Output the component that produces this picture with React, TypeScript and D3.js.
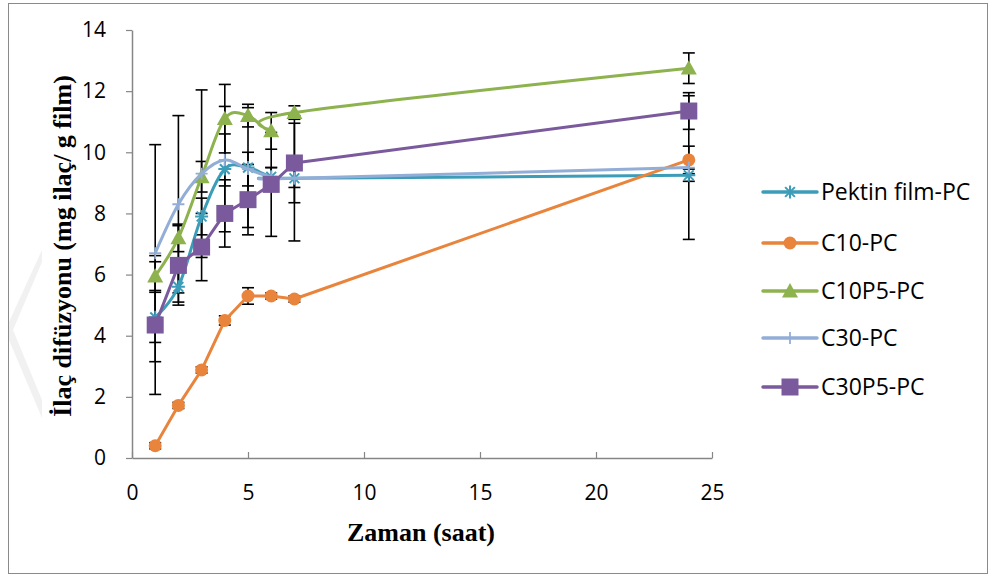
import React, { useEffect, useRef } from "react";
import * as d3 from "d3";

// zaman (saat)
const hours = [1, 2, 3, 4, 5, 6, 7, 24];

const seriesNames = ["Pektin film-PC", "C10-PC", "C10P5-PC", "C30-PC", "C30P5-PC"];
const pektin = [4.6, 5.6, 7.9, 9.45, 9.5, 9.2, 9.15, 9.25];
const c10 = [0.4, 1.72, 2.88, 4.5, 5.3, 5.3, 5.2, 9.75];
const c10p5 = [5.95, 7.2, 9.2, 11.1, 11.2, 10.7, 11.3, 12.75];
const c30 = [6.7, 8.3, 9.3, 9.75, 9.45, 9.2, 9.15, 9.5];
const c30p5 = [4.35, 6.3, 6.9, 8.0, 8.45, 8.95, 9.65, 11.35];

// hata cubuklari (+/-)
const pektinErr = [0.82, 0.5, 0.6, 2.05, 1.96, 0.3, 2.05, 0.2];
const c10Err = [0.1, 0.1, 0.1, 0.15, 0.27, 0.1, 0.1, 0.45];
const c10p5Err = [0.47, 0.45, 0.5, 1.12, 0.37, 0.6, 0.22, 0.5];
const c30Err = [3.55, 2.9, 2.74, 0.85, 0.55, 0.3, 0.3, 2.35];
const c30p5Err = [2.27, 1.3, 1.1, 1.1, 1.15, 1.7, 1.3, 0.6];

const yTicks = [0, 2, 4, 6, 8, 10, 12, 14];
const xTicks = [0, 5, 10, 15, 20, 25];

const colors = ["#3C9DB8", "#E8843B", "#8DB24E", "#93AED6", "#7A5A9C"];
const markers = ["asterisk", "circle", "triangle", "plus", "square"];
const smooth = [true, false, true, true, false];

export default function App() {
  const svgRef = useRef<SVGSVGElement>(null);

  useEffect(() => {
    const svg = d3.select(svgRef.current);
    svg.selectAll("*").remove();

    const W = 993, H = 580;
    const left = 132, right = 712, top = 30, bottom = 458;
    const x = d3.scaleLinear().domain([0, 25]).range([left, right]);
    const y = d3.scaleLinear().domain([0, 14]).range([bottom, top]);

    const values = [pektin, c10, c10p5, c30, c30p5];
    const errs = [pektinErr, c10Err, c10p5Err, c30Err, c30p5Err];

    svg.append("rect").attr("width", W).attr("height", H).attr("fill", "#fff");
    // soluk filigran
    svg.append("path")
      .attr("d", "M9,322L42,250L42,262L13,330L42,400L42,418L9,340Z")
      .attr("fill", "#f1f1f1");
    svg.append("rect")
      .attr("x", 8.5).attr("y", 3.5).attr("width", 979).attr("height", 570)
      .attr("fill", "none").attr("stroke", "#8a8a8a").attr("stroke-width", 1);

    // axes
    const yAxis = svg.append("g").attr("transform", `translate(${left},0)`)
      .call(d3.axisLeft(y).tickValues(yTicks).tickSize(6).tickSizeOuter(0).tickPadding(20));
    const xAxis = svg.append("g").attr("transform", `translate(0,${bottom})`)
      .call(d3.axisBottom(x).tickValues(xTicks).tickSize(-6).tickSizeOuter(0).tickPadding(35));
    [yAxis, xAxis].forEach((g) => {
      g.select(".domain").attr("stroke", "#868686").attr("stroke-width", 1.5);
      g.selectAll(".tick line").attr("stroke", "#868686").attr("stroke-width", 1.2);
      g.selectAll("text")
        .attr("font-family", "Open Sans, Noto Sans, sans-serif")
        .attr("font-size", 21).attr("fill", "#000");
    });
    xAxis.selectAll("text").attr("dy", "0.35em");

    // error bars
    const eb = svg.append("g").attr("stroke", "#000").attr("stroke-width", 1.6);
    values.forEach((vals, s) => {
      vals.forEach((v, i) => {
        const px = x(hours[i]);
        const y1 = y(v + errs[s][i]);
        const y2 = y(v - errs[s][i]);
        eb.append("line").attr("x1", px).attr("x2", px).attr("y1", y1).attr("y2", y2);
        eb.append("line").attr("x1", px - 6).attr("x2", px + 6).attr("y1", y1).attr("y2", y1);
        eb.append("line").attr("x1", px - 6).attr("x2", px + 6).attr("y1", y2).attr("y2", y2);
      });
    });

    const drawMarker = (g: any, type: string, cx: number, cy: number, color: string, scale = 1) => {
      if (type === "circle") {
        g.append("circle").attr("cx", cx).attr("cy", cy).attr("r", 6.5 * scale).attr("fill", color);
      } else if (type === "triangle") {
        const s = 8 * scale;
        g.append("path")
          .attr("d", `M${cx},${cy - s}L${cx + s},${cy + s * 0.8}L${cx - s},${cy + s * 0.8}Z`)
          .attr("fill", color);
      } else if (type === "square") {
        const s = 8.5 * scale;
        g.append("rect").attr("x", cx - s).attr("y", cy - s).attr("width", 2 * s).attr("height", 2 * s)
          .attr("fill", color);
      } else if (type === "plus") {
        const s = 6 * scale;
        g.append("path").attr("d", `M${cx - s},${cy}H${cx + s}M${cx},${cy - s}V${cy + s}`)
          .attr("stroke", color).attr("stroke-width", 1.8);
      } else {
        const s = 6.5 * scale;
        const d = s * 0.75;
        g.append("path")
          .attr("d", `M${cx},${cy - s}V${cy + s}M${cx - d},${cy - d}L${cx + d},${cy + d}M${cx - d},${cy + d}L${cx + d},${cy - d}M${cx - s},${cy}H${cx + s}`)
          .attr("stroke", color).attr("stroke-width", 2);
      }
    };

    // series
    values.forEach((vals, s) => {
      const pts: [number, number][] = vals.map((v, i) => [x(hours[i]), y(v)]);
      const line = d3.line().curve(smooth[s] ? d3.curveCatmullRom.alpha(0) : d3.curveLinear);
      svg.append("path").attr("d", line(pts))
        .attr("fill", "none").attr("stroke", colors[s]).attr("stroke-width", 3)
        .attr("stroke-linejoin", "round");
      const mg = svg.append("g");
      pts.forEach(([px, py]) => drawMarker(mg, markers[s], px, py, colors[s]));
    });

    // legend
    const legY = [192, 243, 291, 338, 387];
    seriesNames.forEach((name, s) => {
      const g = svg.append("g");
      g.append("line").attr("x1", 763).attr("x2", 817).attr("y1", legY[s]).attr("y2", legY[s])
        .attr("stroke", colors[s]).attr("stroke-width", 3.5).attr("stroke-linecap", "round");
      drawMarker(g, markers[s], 790, legY[s], colors[s]);
      g.append("text").attr("x", 821).attr("y", legY[s]).attr("dy", "0.36em")
        .attr("font-family", "Open Sans, Noto Sans, sans-serif").attr("font-size", 23)
        .text(name);
    });

    // titles
    svg.append("text")
      .attr("transform", `translate(71,${(top + bottom) / 2 + 2}) rotate(-90)`)
      .attr("text-anchor", "middle")
      .attr("font-family", "Liberation Serif, Times New Roman, serif")
      .attr("font-weight", "bold").attr("font-size", 26)
      .text("İlaç difüzyonu (mg ilaç/ g film)");
    svg.append("text")
      .attr("x", 421).attr("y", 541).attr("text-anchor", "middle")
      .attr("font-family", "Liberation Serif, Times New Roman, serif")
      .attr("font-weight", "bold").attr("font-size", 26)
      .text("Zaman (saat)");
  }, []);

  return (
    <svg ref={svgRef} width={993} height={580}
      style={{ position: "absolute", left: 0, top: 0 }} />
  );
}
